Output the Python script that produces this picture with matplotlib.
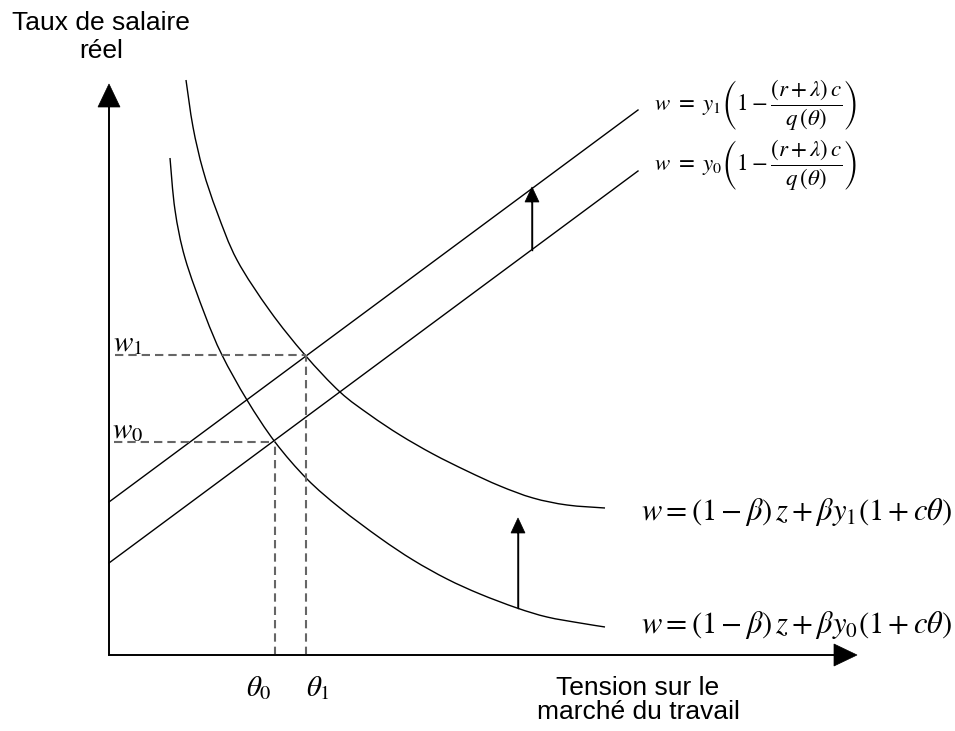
import matplotlib
matplotlib.use("Agg")
import matplotlib.pyplot as plt
from matplotlib.path import Path
from matplotlib.patches import PathPatch

plt.rcParams['mathtext.fontset'] = 'stix'
plt.rcParams['font.family'] = ['Liberation Sans', 'DejaVu Sans']

# ---- data (diagram units: origin at the axes corner) ----
# wage-setting curve, productivity y1 (upper curve)
curve1_x = [77, 84, 94, 108, 128, 161, 196, 231, 261, 291, 324, 358, 391, 424, 458, 496]
curve1_y = [575, 528, 485, 443, 395, 344, 300, 263, 240, 220, 201, 184, 169, 157, 150, 147]
# wage-setting curve, productivity y0 (lower curve)
curve0_x = [61, 66, 76, 96, 113, 138, 166, 198, 231, 271, 304, 338, 371, 408, 438, 471, 496]
curve0_y = [497, 445, 397, 340, 300, 255, 213, 176, 147, 117, 95, 76, 61, 47, 38, 32, 28]
# job-creation lines (straight)
line1_x = [0, 529]
line1_y = [153, 545]
line0_x = [0, 529]
line0_y = [92, 484]
# equilibria
theta_eq = [166, 197]
w_eq = [213, 300]
# shift arrows: (x, y_start, y_end)
shift_line = (423, 405, 468)
shift_curve = (409, 47, 137)
# axes extent
x_axis_end = 748
y_axis_end = 571


def smooth_path(xs, ys):
    """Catmull-Rom curve through the given points, as cubic Bezier segments."""
    pts = list(zip(xs, ys))
    n = len(pts)
    verts = [pts[0]]
    codes = [Path.MOVETO]
    for i in range(n - 1):
        p0 = pts[i - 1] if i > 0 else pts[i]
        p1 = pts[i]
        p2 = pts[i + 1]
        p3 = pts[i + 2] if i + 2 < n else pts[i + 1]
        c1 = (p1[0] + (p2[0] - p0[0]) / 6, p1[1] + (p2[1] - p0[1]) / 6)
        c2 = (p2[0] - (p3[0] - p1[0]) / 6, p2[1] - (p3[1] - p1[1]) / 6)
        verts += [c1, c2, p2]
        codes += [Path.CURVE4] * 3
    return Path(verts, codes)


fig = plt.figure(figsize=(9.55, 7.31), dpi=100)
ax = fig.add_axes([0, 0, 1, 1])
ax.set_xlim(-109, 846)
ax.set_ylim(-76, 655)
ax.axis('off')

lw = 1.0
for xs, ys in ((curve1_x, curve1_y), (curve0_x, curve0_y)):
    ax.add_patch(PathPatch(smooth_path(xs, ys), fill=False, ec='black', lw=lw))
ax.plot(line1_x, line1_y, color='black', lw=lw)
ax.plot(line0_x, line0_y, color='black', lw=lw)

# dashed projection lines
dash = dict(color='#666666', lw=1.5, linestyle=(0, (4.0, 2.4)))
ax.plot([5, theta_eq[0]], [w_eq[0], w_eq[0]], **dash)
ax.plot([6, theta_eq[1]], [w_eq[1], w_eq[1]], **dash)
ax.plot([theta_eq[0], theta_eq[0]], [0, w_eq[0]], **dash)
ax.plot([theta_eq[1], theta_eq[1]], [0, w_eq[1]], **dash)

# axes with arrow heads
ax.plot([0, x_axis_end - 20], [0, 0], color='black', lw=1.3)
ax.plot([0, 0], [0, y_axis_end - 20], color='black', lw=1.3)
ax.arrow(0, 0, x_axis_end, 0, head_width=22, head_length=23, width=0.01,
         length_includes_head=True, fc='black', ec='black', lw=0.5)
ax.arrow(0, 0, 0, y_axis_end, head_width=22, head_length=23, width=0.01,
         length_includes_head=True, fc='black', ec='black', lw=0.5)

# shift arrows
for (x, y0, y1) in (shift_line, shift_curve):
    ax.plot([x, x], [y0, y1 - 10], color='black', lw=1.0)
    ax.arrow(x, y0, 0, y1 - y0, head_width=14, head_length=15, width=0.01,
             length_includes_head=True, fc='black', ec='black', lw=0.5)

# axis titles
ax.text(-8, 625, 'Taux de salaire', ha='center', va='baseline', fontsize=19)
ax.text(-8, 597, 'réel', ha='center', va='baseline', fontsize=19)
ax.text(529, -40, 'Tension sur le', ha='center', va='baseline', fontsize=19)
ax.text(529, -64, 'marché du travail', ha='center', va='baseline', fontsize=19)

# equilibrium labels
ax.text(19, w_eq[1] + 12, r'$w_1$', ha='center', va='center', fontsize=21)
ax.text(19, w_eq[0] + 12, r'$w_0$', ha='center', va='center', fontsize=21)
ax.text(theta_eq[0] - 16, -33, r'$\theta_0$', ha='center', va='center', fontsize=21)
ax.text(theta_eq[1] + 12, -33, r'$\theta_1$', ha='center', va='center', fontsize=21)

# curve equations
ax.text(545, 550, r'$w\ =\ y_1\left(1-\dfrac{(r+\lambda)\,c}{q\,(\theta)}\right)$',
        ha='left', va='center', fontsize=16.5)
ax.text(545, 490, r'$w\ =\ y_0\left(1-\dfrac{(r+\lambda)\,c}{q\,(\theta)}\right)$',
        ha='left', va='center', fontsize=16.5)
ax.text(532, 143, r'$w=\left(1-\beta\right)\,z+\beta y_1\left(1+c\theta\right)$',
        ha='left', va='center', fontsize=22)
ax.text(532, 30, r'$w=\left(1-\beta\right)\,z+\beta y_0\left(1+c\theta\right)$',
        ha='left', va='center', fontsize=22)

fig.savefig('out.png', dpi=100)
